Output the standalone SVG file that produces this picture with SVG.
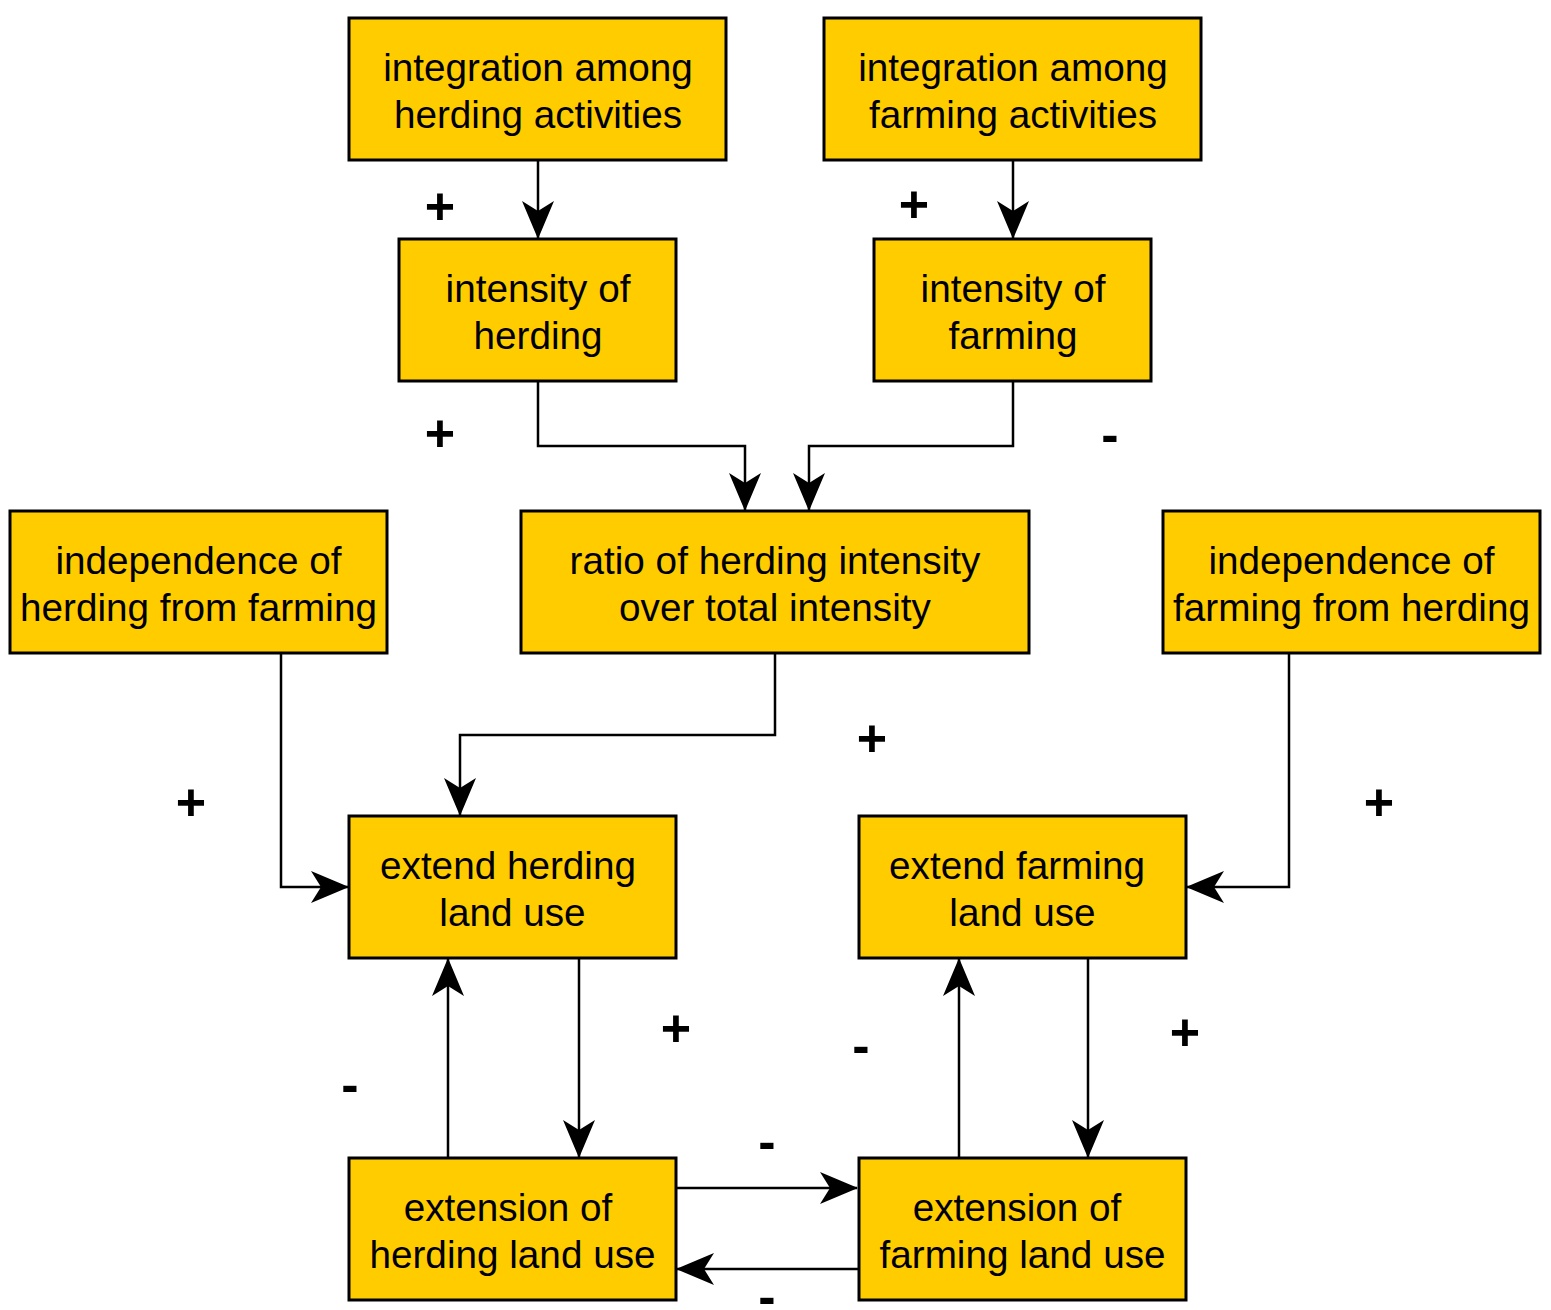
<svg xmlns="http://www.w3.org/2000/svg" width="1551" height="1310" viewBox="0 0 1551 1310">
<style>
.box{fill:#FFCC00;stroke:#000;stroke-width:3}
.lbl{font-family:"Liberation Sans",Arial,Helvetica,sans-serif;font-size:38.7px;fill:#000;text-anchor:middle}
.sign{font-family:"Liberation Sans",Arial,Helvetica,sans-serif;font-size:52px;font-weight:bold;fill:#000;text-anchor:middle}
.conn{fill:none;stroke:#000;stroke-width:2.5;marker-end:url(#arr)}
</style>
<defs>
<marker id="arr" markerUnits="userSpaceOnUse" viewBox="0 0 38 32" refX="37" refY="16" markerWidth="38" markerHeight="32" orient="auto">
<path d="M0,0 L38,16 L0,32 L10,16 Z" fill="#000"/>
</marker>
</defs>
<rect width="1551" height="1310" fill="#fff"/>
<g id="connectors">
<path class="conn" d="M538,160 V238"/>
<path class="conn" d="M1013,160 V238"/>
<path class="conn" d="M538,381 V446 H745 V510"/>
<path class="conn" d="M1013,381 V446 H809 V510"/>
<path class="conn" d="M775,653 V735 H460 V815"/>
<path class="conn" d="M281,653 V887 H348"/>
<path class="conn" d="M1289,653 V887 H1187"/>
<path class="conn" d="M579,958 V1157"/>
<path class="conn" d="M448,1158 V959"/>
<path class="conn" d="M1088,958 V1157"/>
<path class="conn" d="M959,1158 V959"/>
<path class="conn" d="M676,1188 H857"/>
<path class="conn" d="M859,1269 H677"/>
</g>
<g id="n1"><rect class="box" x="349" y="18" width="377" height="142"/><text class="lbl" x="538" y="81">integration among</text><text class="lbl" x="538" y="128">herding activities</text></g>
<g id="n2"><rect class="box" x="824" y="18" width="377" height="142"/><text class="lbl" x="1013" y="81">integration among</text><text class="lbl" x="1013" y="128">farming activities</text></g>
<g id="n3"><rect class="box" x="399" y="239" width="277" height="142"/><text class="lbl" x="538" y="302">intensity of</text><text class="lbl" x="538" y="349">herding</text></g>
<g id="n4"><rect class="box" x="874" y="239" width="277" height="142"/><text class="lbl" x="1013" y="302">intensity of</text><text class="lbl" x="1013" y="349">farming</text></g>
<g id="n5"><rect class="box" x="10" y="511" width="377" height="142"/><text class="lbl" x="198.5" y="574">independence of</text><text class="lbl" x="198.5" y="621">herding from farming</text></g>
<g id="n6"><rect class="box" x="521" y="511" width="508" height="142"/><text class="lbl" x="775" y="574">ratio of herding intensity</text><text class="lbl" x="775" y="621">over total intensity</text></g>
<g id="n7"><rect class="box" x="1163" y="511" width="377" height="142"/><text class="lbl" x="1351.5" y="574">independence of</text><text class="lbl" x="1351.5" y="621">farming from herding</text></g>
<g id="n8"><rect class="box" x="349" y="816" width="327" height="142"/><text class="lbl" x="508" y="879">extend herding</text><text class="lbl" x="512.5" y="926">land use</text></g>
<g id="n9"><rect class="box" x="859" y="816" width="327" height="142"/><text class="lbl" x="1017" y="879">extend farming</text><text class="lbl" x="1022.5" y="926">land use</text></g>
<g id="n10"><rect class="box" x="349" y="1158" width="327" height="142"/><text class="lbl" x="508" y="1221">extension of</text><text class="lbl" x="512.5" y="1268">herding land use</text></g>
<g id="n11"><rect class="box" x="859" y="1158" width="327" height="142"/><text class="lbl" x="1017" y="1221">extension of</text><text class="lbl" x="1022.5" y="1268">farming land use</text></g>
<g id="signs">
<text class="sign" x="440" y="224">+</text>
<text class="sign" x="914" y="221.5">+</text>
<text class="sign" x="440" y="450.5">+</text>
<text class="sign" x="1110" y="452">-</text>
<text class="sign" x="872" y="755.5">+</text>
<text class="sign" x="191" y="819.5">+</text>
<text class="sign" x="1379" y="819.5">+</text>
<text class="sign" x="676" y="1045.5">+</text>
<text class="sign" x="350" y="1101.5">-</text>
<text class="sign" x="861" y="1063">-</text>
<text class="sign" x="1185" y="1049.5">+</text>
<text class="sign" x="767" y="1159">-</text>
<text class="sign" x="767" y="1313.5">-</text>
</g>
</svg>
